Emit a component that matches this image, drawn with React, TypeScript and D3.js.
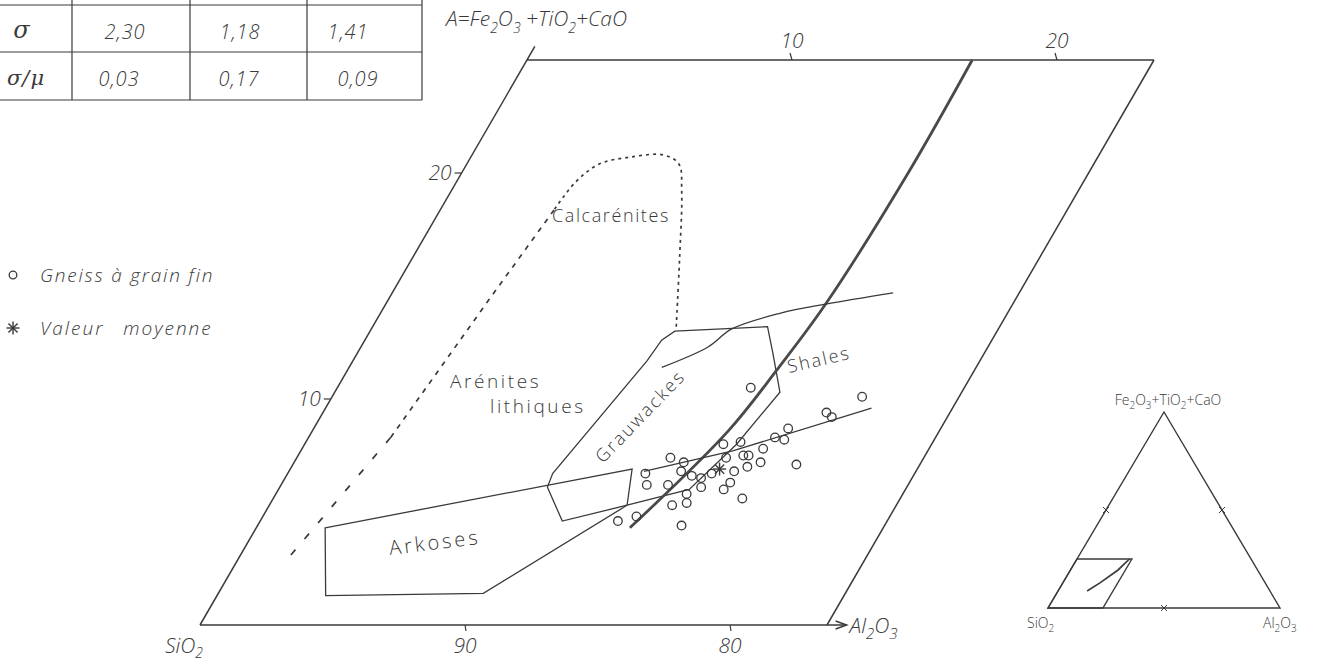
import * as d3 from 'd3';

const WIDTH = 1317;
const HEIGHT = 667;

// Ternary compositions, [Al2O3 %, A %] with A = Fe2O3 + TiO2 + CaO (SiO2 = the rest)
const AL_MAX = 23.66;
const A_MAX = 25;

const topTicks = [10, 20];
const baseTicks = [10, 20];
const baseTickLabels = ['90', '80'];
const sideTicks = [10, 20];

// Gneiss à grain fin
const gneiss: [number, number][] = [
  [15.6, 10.5], [20.0, 10.1], [19.0, 9.4], [19.3, 9.2], [17.9, 8.7], [18.0, 8.2],
  [17.6, 8.3], [17.4, 7.8], [17.0, 7.5], [16.8, 7.5], [17.6, 7.2], [17.2, 7.0],
  [19.0, 7.1], [16.8, 6.8], [14.1, 7.4], [14.7, 7.2], [13.5, 6.7], [13.8, 6.2],
  [14.6, 6.2], [14.8, 6.8], [15.3, 6.6], [15.7, 6.5], [15.5, 5.8], [15.7, 5.4],
  [15.2, 5.3], [14.1, 4.8], [13.5, 4.6], [16.0, 4.4], [15.9, 6.1], [16.0, 6.7],
  [16.8, 6.0], [16.9, 6.3], [17.7, 5.6], [16.2, 7.4], [16.4, 8.1], [15.8, 8.0],
];
// Valeur moyenne
const meanValue: [number, number] = [16.2, 6.9];

// fields
const arkoses: [number, number][] = [[2.6, 4.3], [12.9, 6.9], [13.5, 5.3], [10.0, 1.4], [4.1, 1.3]];
const grauwackes: [number, number][] = [
  [10.1, 6.1], [10.0, 6.7], [11.1, 11.7], [11.2, 12.6], [11.5, 13.0], [14.9, 13.2],
  [15.7, 12.0], [16.8, 10.3], [16.3, 8.0], [15.5, 6.0], [13.5, 5.3], [11.4, 4.6],
];
const calcLower: [number, number][] = [[1.9, 3.1], [3.1, 8.3]];
const calcSide: [number, number][] = [[3.1, 8.3], [3.8, 14.4], [4.3, 18.4]];
const calcTop: [number, number][] = [
  [4.3, 18.4], [4.5, 19.6], [5.0, 20.4], [6.0, 20.7], [7.2, 20.8], [8.0, 20.4],
  [8.7, 19.2], [10.1, 16.2], [11.5, 13.1],
];
// trend lines
const trendSteep: [number, number][] = [[16.8, 25], [16.85, 20], [16.6, 14.2], [16.2, 11.3], [15.7, 8.6], [14.1, 4.3]];
const trendGneiss: [number, number][] = [[13.4, 6.8], [16.3, 7.7], [20.6, 9.6]];
const trendShales: [number, number][] = [[11.8, 11.4], [13.1, 12.3], [13.6, 13.1], [15.1, 13.8], [16.6, 14.2], [18.9, 14.7]];

// inset (full triangle, %)
const insetFrame: [number, number][] = [[0, 0], [AL_MAX, 0], [AL_MAX, A_MAX], [0, A_MAX]];
const insetCurve: [number, number][] = [[22.6, 25], [20.5, 19.4], [16.0, 12.8], [12.5, 8.7]];

// table
const tableSigma = ['2,30', '1,18', '1,41'];
const tableRatio = ['0,03', '0,17', '0,09'];

const INK = '#3a3a3a';
const FONT = "'Open Sans', 'DejaVu Sans', sans-serif";

const xBase = d3.scaleLinear().domain([0, AL_MAX]).range([200, 827]);
const yA = d3.scaleLinear().domain([0, A_MAX]).range([625, 60]);
const shift = d3.scaleLinear().domain([0, A_MAX]).range([0, 327]);
const px = (d: [number, number]): [number, number] => [xBase(d[0]) + shift(d[1]), yA(d[1])];

const insetX = d3.scaleLinear().domain([0, 100]).range([1048, 1280]);
const insetY = d3.scaleLinear().domain([0, 100]).range([608, 412]);
const ipx = (d: [number, number]): [number, number] => [insetX(d[0] + d[1] / 2), insetY(d[1])];

const line = d3.line<[number, number]>().x((d) => px(d)[0]).y((d) => px(d)[1]);
const smooth = d3.line<[number, number]>().x((d) => px(d)[0]).y((d) => px(d)[1]).curve(d3.curveCatmullRom);
const closed = d3.line<[number, number]>().x((d) => px(d)[0]).y((d) => px(d)[1]).curve(d3.curveLinearClosed);
const insetLine = d3.line<[number, number]>().x((d) => ipx(d)[0]).y((d) => ipx(d)[1]);

function Star({ cx, cy, r }: { cx: number; cy: number; r: number }) {
  return (
    <g stroke={INK} strokeWidth={1.4}>
      {[0, 45, 90, 135].map((deg) => {
        const t = (deg * Math.PI) / 180;
        return <line key={deg} x1={cx - r * Math.cos(t)} y1={cy - r * Math.sin(t)} x2={cx + r * Math.cos(t)} y2={cy + r * Math.sin(t)} />;
      })}
    </g>
  );
}

export default function App() {
  const [blX, blY] = px([0, 0]);
  const [arrowX] = px([24.4, 0]);
  const meanPt = px(meanValue);

  return (
    <svg width={WIDTH} height={HEIGHT} style={{ position: 'absolute', left: 0, top: 0, background: '#fff' }} fontFamily={FONT}>
      {/* table (cut at the top) */}
      <g stroke={INK} strokeWidth={1.2}>
        {[72, 190, 307, 422].map((x) => <line key={x} x1={x} x2={x} y1={0} y2={100} />)}
        {[5, 52, 100].map((y) => <line key={y} x1={0} x2={422} y1={y} y2={y} />)}
      </g>
      <g fill={INK} fontSize={20} fontStyle="italic" fontWeight={300} textAnchor="middle" letterSpacing={1}>
        {tableSigma.map((v, i) => <text key={v} x={[125, 240, 348][i]} y={39}>{v}</text>)}
        {tableRatio.map((v, i) => <text key={v} x={[119, 239, 358][i]} y={86}>{v}</text>)}
        <text x={22} y={38} fontFamily="'DejaVu Serif', serif" fontSize={24}>σ</text>
        <text x={26} y={85} fontFamily="'DejaVu Serif', serif" fontSize={21}>σ/μ</text>
      </g>

      {/* legend */}
      <circle cx={13} cy={275} r={3.8} fill="none" stroke={INK} strokeWidth={1.3} />
      <text x={40} y={282} fontSize={19} fontStyle="italic" fontWeight={300} fill={INK} letterSpacing={1.8}>Gneiss à grain fin</text>
      <Star cx={13} cy={328} r={6.5} />
      <text x={40} y={335} fontSize={19} fontStyle="italic" fontWeight={300} fill={INK} letterSpacing={2} wordSpacing={12}>Valeur moyenne</text>

      {/* frame */}
      <g fill="none" stroke={INK} strokeWidth={1.5}>
        <path d={line([[0, 0], [0, A_MAX + 0.6]]) ?? ''} />
        <path d={line([[0, A_MAX], [AL_MAX, A_MAX]]) ?? ''} />
        <path d={line([[AL_MAX, 0], [AL_MAX, A_MAX]]) ?? ''} />
        <line x1={blX} y1={blY} x2={arrowX} y2={blY} />
        <path d={`M${arrowX - 11},${blY - 4}L${arrowX},${blY}L${arrowX - 11},${blY + 4}`} />
      </g>

      {/* ticks */}
      <g stroke={INK} strokeWidth={1.2}>
        {topTicks.map((t) => {
          const [x, y] = px([t, A_MAX]);
          return <line key={'t' + t} x1={x} y1={y} x2={x - 2} y2={y - 7} />;
        })}
        {baseTicks.map((t) => {
          const [x, y] = px([t, 0]);
          return <line key={'b' + t} x1={x} y1={y} x2={x + 1} y2={y + 6} />;
        })}
        {sideTicks.map((t) => {
          const [x, y] = px([0, t]);
          return <line key={'s' + t} x1={x - 7} y1={y} x2={x} y2={y} />;
        })}
      </g>
      <g fill={INK} fontSize={21} fontStyle="italic" fontWeight={300}>
        {topTicks.map((t) => {
          const [x, y] = px([t, A_MAX]);
          return <text key={'tl' + t} x={x} y={y - 12} textAnchor="middle">{t}</text>;
        })}
        {baseTicks.map((t, i) => {
          const [x, y] = px([t, 0]);
          return <text key={'bl' + t} x={x} y={y + 28} textAnchor="middle">{baseTickLabels[i]}</text>;
        })}
        {sideTicks.map((t) => {
          const [x, y] = px([0, t]);
          return <text key={'sl' + t} x={x - 10} y={y + 7} textAnchor="end">{t}</text>;
        })}
        <text x={165} y={653}>SiO<tspan dy={5} fontSize={14}>2</tspan></text>
        <text x={arrowX + 3} y={blY + 8}>Al<tspan dy={6} fontSize={15}>2</tspan><tspan dy={-6}>O</tspan><tspan dy={6} fontSize={15}>3</tspan></text>
        <text x={446} y={26} fontSize={21}>
          A=Fe<tspan dy={7} fontSize={14}>2</tspan><tspan dy={-7}>O</tspan><tspan dy={7} fontSize={14}>3</tspan>
          <tspan dy={-7}> +TiO</tspan><tspan dy={7} fontSize={14}>2</tspan><tspan dy={-7}>+CaO</tspan>
        </text>
      </g>

      {/* fields */}
      <g fill="none" stroke={INK} strokeWidth={1.3}>
        <path d={closed(arkoses) ?? ''} />
        <path d={closed(grauwackes) ?? ''} />
        <path d={line(calcLower) ?? ''} strokeDasharray="7,14" strokeWidth={1.7} />
        <path d={line(calcSide) ?? ''} strokeDasharray="5,6" strokeWidth={1.7} />
        <path d={smooth(calcTop) ?? ''} strokeDasharray="3,4" strokeWidth={1.7} />
        <path d={smooth(trendSteep) ?? ''} strokeWidth={2.8} stroke="#4a4a4a" />
        <path d={line(trendGneiss) ?? ''} />
        <path d={smooth(trendShales) ?? ''} />
      </g>

      {/* field labels */}
      <g fill={INK} fontSize={18} fontWeight={300} letterSpacing={2}>
        <text x={552} y={222} letterSpacing={1.6}>Calcarénites</text>
        <text x={450} y={388} fontSize={19} letterSpacing={2.6}>Arénites</text>
        <text x={490} y={413} fontSize={19} letterSpacing={2.6}>lithiques</text>
        <text transform="translate(603,464) rotate(-46)" letterSpacing={2.2}>Grauwackes</text>
        <text transform="translate(789,373) rotate(-13)" letterSpacing={2}>Shales</text>
        <text transform="translate(390,555) rotate(-7)" fontSize={20} letterSpacing={3}>Arkoses</text>
      </g>

      {/* samples */}
      <g fill="none" stroke={INK} strokeWidth={1.3}>
        {gneiss.map((d, i) => {
          const [x, y] = px(d);
          return <circle key={i} cx={x} cy={y} r={4.3} />;
        })}
      </g>
      <Star cx={meanPt[0]} cy={meanPt[1]} r={6.5} />

      {/* inset triangle */}
      <g fill="none" stroke={INK} strokeWidth={1.4}>
        <path d={insetLine([[0, 0], [100, 0], [0, 100]])! + 'Z'} />
        <path d={insetLine(insetFrame)! + 'Z'} />
        <path d={insetLine(insetCurve) ?? ''} strokeWidth={1.7} />
        {([[0, 50], [50, 50], [50, 0]] as [number, number][]).map((d, i) => {
          const [x, y] = ipx(d);
          return <path key={i} d={`M${x - 3},${y - 3}L${x + 3},${y + 3}M${x + 3},${y - 3}L${x - 3},${y + 3}`} strokeWidth={1} />;
        })}
      </g>
      <g fill={INK} fontSize={14} fontWeight={300}>
        <text x={ipx([0, 100])[0] + 4} y={ipx([0, 100])[1] - 7} textAnchor="middle">
          Fe<tspan dy={4} fontSize={10}>2</tspan><tspan dy={-4}>O</tspan><tspan dy={4} fontSize={10}>3</tspan>
          <tspan dy={-4}>+TiO</tspan><tspan dy={4} fontSize={10}>2</tspan><tspan dy={-4}>+CaO</tspan>
        </text>
        <text x={ipx([0, 0])[0] - 21} y={ipx([0, 0])[1] + 20}>SiO<tspan dy={4} fontSize={10}>2</tspan></text>
        <text x={ipx([100, 0])[0] - 17} y={ipx([100, 0])[1] + 20}>Al<tspan dy={4} fontSize={10}>2</tspan><tspan dy={-4}>O</tspan><tspan dy={4} fontSize={10}>3</tspan></text>
      </g>
    </svg>
  );
}
